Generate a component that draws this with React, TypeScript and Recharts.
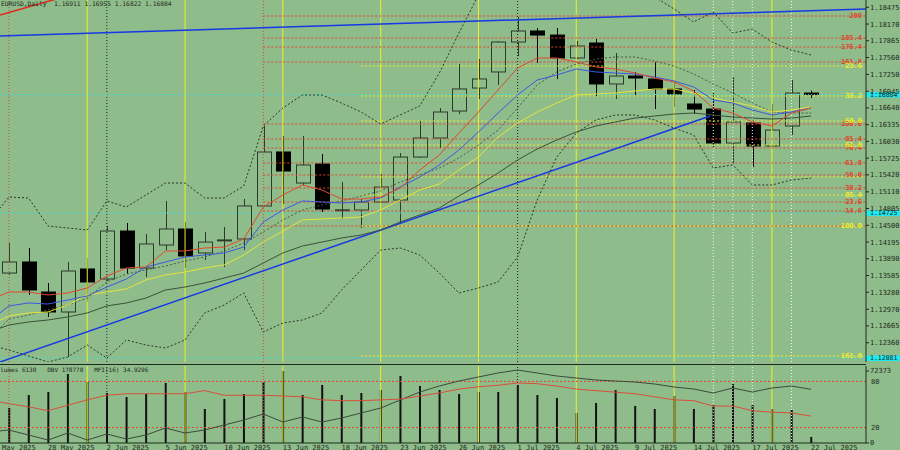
import React from "react"
import { ComposedChart, Bar, Line, XAxis, YAxis, ReferenceLine } from "recharts"

const BG = "#8fbc8b"
const INK = "#1e2a1e"
const MONO = "'DejaVu Sans Mono', monospace"
const CYAN = "#1ee8f0"
const RED = "#e0452e"
const YEL = "#eeee2a"

// bar dates; the first one (23 May) sits just left of the visible area
const dates = [
  "23 May", "26 May", "27 May", "28 May", "29 May", "30 May", "2 Jun", "3 Jun", "4 Jun", "5 Jun", "6 Jun",
  "9 Jun", "10 Jun", "11 Jun", "12 Jun", "13 Jun", "16 Jun", "17 Jun", "18 Jun", "19 Jun", "20 Jun",
  "23 Jun", "24 Jun", "25 Jun", "26 Jun", "27 Jun", "30 Jun", "1 Jul", "2 Jul", "3 Jul", "4 Jul",
  "7 Jul", "8 Jul", "9 Jul", "10 Jul", "11 Jul", "14 Jul", "15 Jul", "16 Jul", "17 Jul", "18 Jul",
  "21 Jul", "22 Jul",
]

const open = [null, 1.13630, 1.13831, 1.13284, 1.12920, 1.13704, 1.13521, 1.14396, 1.13721, 1.14141, 1.14433, 1.13996, 1.14232, 1.14251, 1.14853, 1.15837, 1.15271, 1.15618, 1.14779, 1.14779, 1.14925, 1.14962, 1.15745, 1.16092, 1.16584, 1.17003, 1.17296, 1.17842, 1.18043, 1.17969, 1.17551, 1.17824, 1.17077, 1.17222, 1.17168, 1.16986, 1.16712, 1.16620, 1.16001, 1.16365, 1.15946, 1.16311, 1.16911]
const high = [null, 1.14178, 1.14087, 1.13448, 1.13831, 1.13904, 1.14487, 1.14542, 1.14342, 1.14944, 1.14561, 1.14379, 1.14470, 1.14979, 1.16311, 1.16129, 1.16129, 1.15800, 1.15290, 1.14979, 1.15436, 1.15819, 1.16402, 1.16639, 1.17441, 1.17532, 1.17857, 1.18298, 1.18097, 1.18097, 1.17861, 1.17897, 1.17642, 1.17296, 1.17478, 1.17131, 1.16967, 1.16912, 1.17204, 1.16421, 1.16712, 1.17149, 1.16955]
const low = [null, 1.13595, 1.13229, 1.12829, 1.12099, 1.13102, 1.13485, 1.13612, 1.13558, 1.14050, 1.13721, 1.13868, 1.13740, 1.14050, 1.14834, 1.14888, 1.15235, 1.14743, 1.14615, 1.14451, 1.14907, 1.14542, 1.15728, 1.15910, 1.16529, 1.16803, 1.17058, 1.17587, 1.17460, 1.17168, 1.17532, 1.16858, 1.16803, 1.16876, 1.16620, 1.16657, 1.16529, 1.15928, 1.15618, 1.15563, 1.15928, 1.16146, 1.16822]
const close = [null, 1.13831, 1.13321, 1.12920, 1.13667, 1.13467, 1.14396, 1.13721, 1.14160, 1.14433, 1.13941, 1.14195, 1.14234, 1.14853, 1.15837, 1.15490, 1.15600, 1.14797, 1.14783, 1.14925, 1.15198, 1.15745, 1.16092, 1.16566, 1.16986, 1.17168, 1.17842, 1.18043, 1.17969, 1.17551, 1.17770, 1.17077, 1.17222, 1.17186, 1.16986, 1.16895, 1.16620, 1.16001, 1.16384, 1.15946, 1.16237, 1.16912, 1.16884]

const maRed = [1.13138, 1.13284, 1.13284, 1.13229, 1.13266, 1.13357, 1.13576, 1.13721, 1.13740, 1.14032, 1.14032, 1.14087, 1.14104, 1.14251, 1.14834, 1.15053, 1.15235, 1.15144, 1.14979, 1.14979, 1.15016, 1.15180, 1.15509, 1.15782, 1.16183, 1.16566, 1.16967, 1.17368, 1.17551, 1.17551, 1.17478, 1.17387, 1.17350, 1.17277, 1.17186, 1.17113, 1.16949, 1.16639, 1.16548, 1.16384, 1.16311, 1.16548, 1.16639]
const maBlue = [1.12755, 1.13030, 1.13084, 1.13065, 1.13138, 1.13212, 1.13375, 1.13521, 1.13740, 1.13831, 1.13922, 1.13959, 1.13996, 1.14104, 1.14561, 1.14779, 1.14944, 1.14925, 1.14907, 1.14925, 1.14998, 1.15199, 1.15381, 1.15600, 1.15873, 1.16202, 1.16548, 1.16876, 1.17149, 1.17241, 1.17350, 1.17296, 1.17277, 1.17259, 1.17204, 1.17131, 1.17022, 1.16785, 1.16730, 1.16603, 1.16512, 1.16566, 1.16639]
const maYellow = [1.12683, 1.12846, 1.12902, 1.12920, 1.13047, 1.13229, 1.13284, 1.13339, 1.13503, 1.13595, 1.13649, 1.13721, 1.13777, 1.13959, 1.14195, 1.14396, 1.14597, 1.14615, 1.14633, 1.14652, 1.14779, 1.14962, 1.15144, 1.15254, 1.15509, 1.15745, 1.16110, 1.16365, 1.16566, 1.16730, 1.16876, 1.16895, 1.16912, 1.16949, 1.16986, 1.16986, 1.16912, 1.16821, 1.16748, 1.16676, 1.16566, 1.16603, 1.16657]
const maDark = [1.12555, 1.12683, 1.12738, 1.12774, 1.12829, 1.12902, 1.13030, 1.13084, 1.13174, 1.13321, 1.13375, 1.13448, 1.13539, 1.13630, 1.13813, 1.13996, 1.14123, 1.14195, 1.14269, 1.14323, 1.14414, 1.14561, 1.14688, 1.14816, 1.15035, 1.15235, 1.15453, 1.15691, 1.15891, 1.16055, 1.16202, 1.16311, 1.16384, 1.16456, 1.16493, 1.16529, 1.16548, 1.16512, 1.16475, 1.16456, 1.16438, 1.16456, 1.16493]
const bandMid = [1.12428, 1.12792, 1.12865, 1.12956, 1.13047, 1.13174, 1.13467, 1.13612, 1.13686, 1.13758, 1.13849, 1.13922, 1.14032, 1.14178, 1.14379, 1.14597, 1.14779, 1.14871, 1.14944, 1.15035, 1.15126, 1.15290, 1.15418, 1.15545, 1.15728, 1.15964, 1.16237, 1.16639, 1.17058, 1.17296, 1.17441, 1.17532, 1.17569, 1.17569, 1.17495, 1.17404, 1.17259, 1.17077, 1.16912, 1.16730, 1.16566, 1.16548, 1.16548]
const bandUp = [1.14579, 1.15016, 1.14998, 1.14487, 1.14451, 1.14414, 1.14944, 1.14834, 1.15053, 1.15271, 1.15271, 1.14998, 1.14998, 1.15217, 1.16311, 1.16639, 1.16876, 1.16876, 1.16730, 1.16566, 1.16347, 1.16512, 1.16676, 1.17277, 1.18006, 1.18699, 1.19337, 1.19793, 1.19976, 1.19884, 1.19702, 1.19428, 1.19155, 1.18881, 1.18662, 1.18444, 1.18207, 1.18389, 1.18006, 1.18079, 1.17842, 1.17696, 1.17605]
const bandLow = [1.12318, 1.12227, 1.12118, 1.12008, 1.12099, 1.12318, 1.12081, 1.12409, 1.12318, 1.12263, 1.12409, 1.12902, 1.13047, 1.13266, 1.12555, 1.12719, 1.12774, 1.12902, 1.13321, 1.13686, 1.14050, 1.14087, 1.13959, 1.13630, 1.13266, 1.13357, 1.13467, 1.13922, 1.14962, 1.15745, 1.16183, 1.16421, 1.16512, 1.16512, 1.16421, 1.16274, 1.16146, 1.15545, 1.15600, 1.15235, 1.15235, 1.15326, 1.15362]

const volume = [null, 35200, 48250, 51270, 69360, 61300, 50260, 46240, 49250, 60310, 51270, 34180, 44230, 49250, 61300, 72373, 48250, 58300, 48250, 50260, 53280, 67350, 57300, 53280, 49250, 51270, 51270, 58300, 48250, 45230, 30160, 40210, 53280, 37190, 34180, 47240, 34180, 38200, 59310, 38200, 34180, 33170, 6130]
const obv = [-42870, -32480, -58450, -84430, -48070, -84430, -53260, -79240, -58450, -22090, -48070, -32480, -6500, 19470, 50640, 9080, 35050, 9080, 29860, 55840, 81810, 123370, 164930, 196100, 222080, 242860, 263640, 279220, 263640, 248050, 237660, 227270, 222080, 216880, 206490, 190910, 180520, 159740, 185710, 164930, 185710, 196100, 178770]
const mfi = [56, 51, 47, 42, 49, 56, 62, 64, 64, 64, 64, 68, 62, 62, 62, 61, 60, 56, 55, 55, 56, 57, 61, 65, 70, 73, 75, 78, 77, 74, 70, 68, 66, 64, 60, 56, 55, 48, 48, 42, 40, 39, 34.93]

const priceTicks = [1.18475, 1.18170, 1.17865, 1.17560, 1.17250, 1.16945, 1.16640, 1.16335, 1.16030, 1.15725, 1.15420, 1.15110, 1.14805, 1.14500, 1.14195, 1.13890, 1.13585, 1.13280, 1.12970, 1.12665, 1.12360]
const dateTickIdx = [-1, 2, 5, 8, 11, 14, 17, 20, 23, 26, 29, 32, 35, 38, 41]
const dateTickLabels = ["23 May 2025", "28 May 2025", "2 Jun 2025", "5 Jun 2025", "10 Jun 2025", "13 Jun 2025", "18 Jun 2025", "23 Jun 2025", "26 Jun 2025", "1 Jul 2025", "4 Jul 2025", "9 Jul 2025", "14 Jul 2025", "17 Jul 2025", "22 Jul 2025"]

// vertical markers (bar indexes)
const fridayLines = [4, 9, 14, 19, 24, 29, 34, 39]
const monthLines = [5, 26]
const anchorLines = [0, 13]
const whiteLines = [36, 37, 38, 40]

// fibonacci levels
const redFibLabels = ["200", "185.4", "176.4", "161.8", "100.0", "85.4", "76.4", "61.8", "50.0", "38.2", "23.6", "14.6", ""]
const redFibPrices = [1.18316, 1.17915, 1.17751, 1.17478, 1.16347, 1.16074, 1.15910, 1.15637, 1.15418, 1.15180, 1.14925, 1.14761, 1.14487]
const yelFibLabels = ["23.6", "38.2", "50.0", "61.8", "", "85.4", "100.0", "161.8"]
const yelFibPrices = [1.17404, 1.16858, 1.16402, 1.15964, 1.15381, 1.15053, 1.14487, 1.12118]

// cyan price lines and their tags
const cyanPrices = [1.16884, 1.14725, 1.12081]
const cyanTags = ["1.16884", "1.14725", "1.12081"]

const XMIN = -0.46
const XMAX = 43.81
const YMIN = 1.12008
const YMAX = 1.18608

// trend lines: [index, price] end points
const trendUpper = [[XMIN, 1.17952], [XMAX, 1.18444]]
const trendSupport = [[XMIN, 1.12008], [35.84, 1.16493]]
const trendSteep = [[XMIN, 1.18335], [3.6, 1.18746]]

const rows = dates.map((date, k) => ({
  i: k - 1, date,
  o: open[k], h: high[k], l: low[k], c: close[k],
  red: maRed[k], blue: maBlue[k], yel: maYellow[k], dark: maDark[k],
  mid: bandMid[k], up: bandUp[k], lo: bandLow[k],
  vol: volume[k], obv: obv[k], mfi: mfi[k],
}))

function Candle(p: any) {
  const { x, y, width, height, payload } = p
  const { o, h, l, c } = payload
  if (o == null) return null
  const top = Math.min(y, y + height)
  const full = Math.abs(height)
  const span = h - l || 1e-9
  const py = (v: number) => top + ((h - v) / span) * full
  const cx = Math.round(x + width / 2) + 0.5
  const bTop = py(Math.max(o, c))
  const bBot = py(Math.min(o, c))
  const bull = c >= o
  return (
    <g>
      <line x1={cx} x2={cx} y1={top} y2={top + full} stroke={bull ? "#2c3a2c" : "#000"} strokeWidth={1} />
      <rect x={cx - 7} y={bTop} width={14} height={Math.max(bBot - bTop, 1)}
        fill={bull ? BG : "#000"} stroke={bull ? "#2c3a2c" : "#000"} strokeWidth={1} />
    </g>
  )
}

const fibLabel = (text: string, color: string) => (p: any) => {
  const vb = p.viewBox
  if (!text) return null
  return (
    <text x={vb.x + vb.width - 4} y={vb.y + 2} textAnchor="end" fontSize={7} fontWeight="bold"
      fontFamily={MONO} fill={color}>{text}</text>
  )
}

const priceTag = (text: string) => (p: any) => {
  const vb = p.viewBox
  const x = vb.x + vb.width
  return (
    <g>
      <rect x={x} y={vb.y - 2.5} width={34} height={5.5} fill={CYAN} />
      <text x={x + 4} y={vb.y + 2.5} fontSize={6.5} fontFamily={MONO} fill={INK}>{text}</text>
    </g>
  )
}

const sideLabel = (text: string) => (p: any) => {
  const vb = p.viewBox
  return (
    <text x={vb.x + vb.width + 5} y={vb.y + 2.5} fontSize={7} fontFamily={MONO} fill={INK}>{text}</text>
  )
}

function DateTick(p: any) {
  const k = dateTickIdx.indexOf(p.payload.value)
  return (
    <text x={p.x} y={p.y + 7} fontSize={7} fontFamily={MONO} fill={INK}>{dateTickLabels[k] ?? ""}</text>
  )
}

function verticals(yAxisId: string | number) {
  return [
    ...fridayLines.map((v) => (
      <ReferenceLine key={`f${v}`} yAxisId={yAxisId} x={v} stroke={YEL} strokeWidth={1} />
    )),
    ...monthLines.map((v) => (
      <ReferenceLine key={`m${v}`} yAxisId={yAxisId} x={v} stroke="#222" strokeDasharray="1 2" />
    )),
    ...anchorLines.map((v) => (
      <ReferenceLine key={`a${v}`} yAxisId={yAxisId} x={v} stroke={RED} strokeDasharray="1 2" />
    )),
    ...whiteLines.map((v) => (
      <ReferenceLine key={`w${v}`} yAxisId={yAxisId} x={v} stroke="#eef4ee" strokeDasharray="1 2" />
    )),
  ]
}

const seg = (pts: number[][]) => pts.map(([x, y]) => ({ x, y }))

const lineProps = { dot: false, activeDot: false, isAnimationActive: false, strokeWidth: 1 } as const

export default function App() {
  return (
    <div style={{ position: "relative", width: 900, height: 450, background: BG, overflow: "hidden" }}>
      <style>{"body{margin:0}"}</style>

      <div style={{ position: "absolute", top: 0, left: 0 }}>
        <ComposedChart width={900} height={364} data={rows} margin={{ top: 0, right: 0, bottom: 2, left: 0 }}>
          <XAxis dataKey="i" type="number" domain={[XMIN, XMAX]} allowDataOverflow hide />
          <YAxis
            orientation="right"
            width={34}
            domain={[YMIN, YMAX]}
            allowDataOverflow
            ticks={priceTicks}
            interval={0}
            tickFormatter={(v: number) => v.toFixed(5)}
            tick={{ fontSize: 7, fill: INK, fontFamily: MONO }}
            tickSize={3}
            tickMargin={1}
            axisLine={{ stroke: INK }}
            tickLine={{ stroke: INK }}
          />
          {verticals(0)}
          {redFibPrices.map((p, k) => (
            <ReferenceLine key={`rf${k}`} segment={[{ x: 13, y: p }, { x: XMAX, y: p }]} ifOverflow="visible"
              stroke={RED} strokeDasharray="2 2" label={fibLabel(redFibLabels[k], RED)} />
          ))}
          {yelFibPrices.map((p, k) => (
            <ReferenceLine key={`yf${k}`} segment={[{ x: 18, y: p }, { x: XMAX, y: p }]} ifOverflow="visible"
              stroke={YEL} strokeDasharray="2 2" label={fibLabel(yelFibLabels[k], YEL)} />
          ))}
          {cyanPrices.map((p, k) => (
            <ReferenceLine key={`cy${k}`} y={p} stroke={CYAN} strokeDasharray="1 2" label={priceTag(cyanTags[k])} />
          ))}
          <ReferenceLine segment={seg(trendUpper)} ifOverflow="hidden" stroke="#1638e6" strokeWidth={1.5} />
          <ReferenceLine segment={seg(trendSupport)} ifOverflow="hidden" stroke="#1638e6" strokeWidth={1.5} />
          <ReferenceLine segment={seg(trendSteep)} ifOverflow="hidden" stroke="#e02a1e" strokeWidth={1.5} />

          <Line dataKey="up" stroke="#2a372a" strokeDasharray="2 2" {...lineProps} />
          <Line dataKey="lo" stroke="#2a372a" strokeDasharray="2 2" {...lineProps} />
          <Line dataKey="mid" stroke="#4b5c4b" strokeDasharray="2 2" {...lineProps} />
          <Line dataKey="dark" stroke="#3b523b" {...lineProps} />
          <Line dataKey="yel" stroke="#e4e43c" {...lineProps} />
          <Line dataKey="blue" stroke="#3c5ae0" {...lineProps} />
          <Line dataKey="red" stroke="#e0482e" {...lineProps} />
          <Bar dataKey={(d: any) => (d.l == null ? null : [d.l, d.h])} barSize={14} isAnimationActive={false}
            activeBar={false} shape={(p: any) => <Candle {...p} />} />
        </ComposedChart>
      </div>

      <div style={{ position: "absolute", top: 364, left: 0, width: 866, height: 1, background: INK }} />

      <div style={{ position: "absolute", top: 364, left: 0 }}>
        <ComposedChart width={900} height={86} data={rows} margin={{ top: 2, right: 0, bottom: 0, left: 0 }}>
          <XAxis dataKey="i" type="number" domain={[XMIN, XMAX]} allowDataOverflow ticks={dateTickIdx}
            interval={0} height={7} tickSize={0} tickMargin={0} axisLine={{ stroke: INK }} tickLine={false}
            tick={(p: any) => <DateTick {...p} />} />
          <YAxis yAxisId="vol" orientation="right" width={34} domain={[0, 77400]} ticks={[0, 72373]} interval={0}
            tick={{ fontSize: 7, fill: INK, fontFamily: MONO }} tickSize={3} tickMargin={1}
            axisLine={{ stroke: INK }} tickLine={{ stroke: INK }} />
          <YAxis yAxisId="mfi" hide domain={[0, 100]} />
          <YAxis yAxisId="obv" hide domain={[-100000, 300000]} />
          {verticals("vol")}
          <ReferenceLine yAxisId="mfi" y={80} stroke={RED} strokeDasharray="2 2" label={sideLabel("80")} />
          <ReferenceLine yAxisId="mfi" y={20} stroke={RED} strokeDasharray="2 2" label={sideLabel("20")} />
          <Bar yAxisId="vol" dataKey="vol" barSize={2} fill="#111" isAnimationActive={false} activeBar={false} />
          <Line yAxisId="obv" dataKey="obv" stroke="#3b4b3b" {...lineProps} />
          <Line yAxisId="mfi" dataKey="mfi" stroke="#d8503a" {...lineProps} />
        </ComposedChart>
      </div>

      <div style={{ position: "absolute", top: 0, left: 1, fontFamily: MONO, fontSize: 6.3, lineHeight: "8px", color: INK, whiteSpace: "pre" }}>
        EURUSD,Daily  1.16911 1.16955 1.16822 1.16884
      </div>
      <div style={{ position: "absolute", top: 366, left: -7, fontFamily: MONO, fontSize: 6, lineHeight: "8px", color: INK, whiteSpace: "pre" }}>
        Volumes 6130   OBV 178770   MFI(16) 34.9296
      </div>
    </div>
  )
}
